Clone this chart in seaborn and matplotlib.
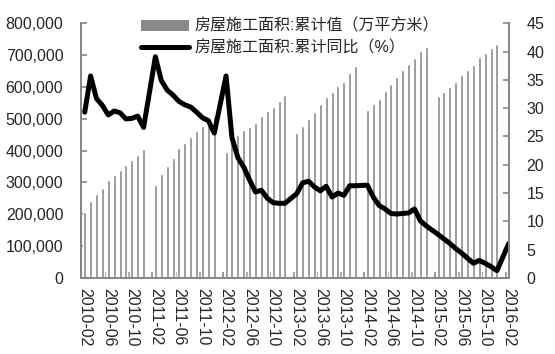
import numpy as np
import pandas as pd
import seaborn as sns
import matplotlib
matplotlib.use('Agg')
import matplotlib.pyplot as plt
from matplotlib.ticker import FuncFormatter, FixedLocator
from matplotlib.patches import Patch
from matplotlib.lines import Line2D

nan = np.nan

# 월 라벨 (2010-02 ~ 2016-02, 1월은 자료 없음)
months = [p.strftime('%Y-%m') for p in pd.period_range('2010-02', '2016-02', freq='M')]

# 房屋施工面积:累计值 (万平方米)
area_2010 = [208000, 241000, 263000, 284000, 307000, 324000, 339000, 354000, 370000, 385000, 405000]
area_2011 = [nan, 292000, 327000, 352000, 378000, 407000, 425000, 444000, 462000, 476000, 491000, 508000]
area_2012 = [nan, 395000, 427000, 450000, 464000, 474000, 488000, 510000, 525000, 537000, 556000, 574000]
area_2013 = [nan, 456000, 478000, 499000, 522000, 548000, 568000, 584000, 604000, 615000, 645000, 666000]
area_2014 = [nan, 529000, 545000, 563000, 586000, 610000, 631000, 652000, 673000, 692000, 712000, 727000]
area_2015 = [nan, 571000, 584000, 600000, 615000, 639000, 654000, 670000, 694000, 708000, 723000, 734000]
area_2016 = [nan, 602000]

# 房屋施工面积:累计同比 (%)
pct_2010 = [29.3, 35.7, 31.7, 30.5, 28.8, 29.5, 29.2, 28.1, 28.2, 28.6, 26.6]
pct_2011 = [nan, 39.1, 34.9, 33.2, 32.3, 31.2, 30.6, 30.2, 29.3, 28.3, 27.8, 25.6]
pct_2012 = [nan, 35.7, 24.8, 21.3, 19.6, 17.3, 15.2, 15.5, 14.1, 13.3, 13.2, 13.2]
pct_2013 = [nan, 14.9, 16.8, 17.1, 16.1, 15.4, 16.2, 14.3, 15.0, 14.6, 16.3, 16.3]
pct_2014 = [nan, 16.4, 14.3, 12.8, 12.2, 11.4, 11.3, 11.4, 11.5, 12.2, 10.1, 9.2]
pct_2015 = [nan, 7.7, 6.9, 6.1, 5.2, 4.4, 3.5, 2.6, 3.1, 2.6, 2.0, 1.3]
pct_2016 = [nan, 6.1]

area = area_2010 + area_2011 + area_2012 + area_2013 + area_2014 + area_2015 + area_2016
pct = pct_2010 + pct_2011 + pct_2012 + pct_2013 + pct_2014 + pct_2015 + pct_2016

df = pd.DataFrame({'month': months, 'area': area, 'pct': pct})
df['pos'] = np.arange(len(df))

bar_label = '房屋施工面积:累计值（万平方米）'
line_label = '房屋施工面积:累计同比（%）'
grey = '#8A8A8A'
spine_c = '#868686'

sns.set_theme(style='white')
plt.rcParams['font.family'] = ['Liberation Sans', 'Noto Sans CJK SC', 'DejaVu Sans']
plt.rcParams['font.size'] = 11.5

fig = plt.figure(figsize=(5.55, 3.54), dpi=100)
ax = fig.add_axes([0.1465, 0.2147, 0.7712, 0.7195])

sns.barplot(data=df, x='month', y='area', order=months, color=grey,
            width=0.5, saturation=1, ax=ax)

ax2 = ax.twinx()
line_df = df.dropna(subset=['pct'])
sns.lineplot(data=line_df, x='pos', y='pct', color='black', lw=3.6, ax=ax2)

ax.set_xlim(-0.58, 72.1)
ax.set_ylim(0, 800000)
ax2.set_ylim(0, 45)
ax.set_yticks(np.arange(0, 800001, 100000))
ax2.set_yticks(np.arange(0, 46, 5))
ax.yaxis.set_major_formatter(FuncFormatter(lambda v, p: f'{int(v):,}'))

ax.set_xticks(np.arange(0, len(months), 4))
ax.set_xticklabels(months[::4], rotation=-90, fontsize=11.5)
ax.xaxis.set_minor_locator(FixedLocator(np.arange(3.5, len(months), 4)))

ax.set_xlabel('')
ax.set_ylabel('')
ax2.set_xlabel('')
ax2.set_ylabel('')

for a in (ax, ax2):
    for s in a.spines.values():
        s.set_color(spine_c)
        s.set_linewidth(1.3)
    a.spines['top'].set_visible(False)
    a.grid(False)

ax.tick_params(axis='y', direction='in', length=4, width=1.2, color=spine_c,
               pad=13, labelsize=11.5, left=True)
ax2.tick_params(axis='y', direction='in', length=4, width=1.2, color=spine_c,
                pad=12.5, labelsize=11.5, right=True)
ax.tick_params(axis='x', which='major', length=0, pad=7)
ax.tick_params(axis='x', which='minor', direction='in', length=4, width=1.2,
               color=spine_c, bottom=True)

handles = [Patch(facecolor=grey, edgecolor='none'),
           Line2D([0], [0], color='black', lw=3.6)]
fig.legend(handles, [bar_label, line_label], loc='upper left',
           bbox_to_anchor=(0.254, 0.948), frameon=False, borderaxespad=0,
           borderpad=0, handlelength=3.0, handletextpad=0.35, labelspacing=0.4,
           prop={'family': ['Liberation Sans', 'Noto Sans CJK SC'], 'size': 11.5})

fig.savefig('out.png', dpi=100)
